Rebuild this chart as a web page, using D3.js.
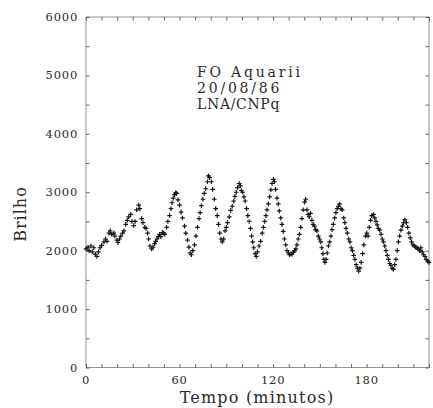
<!DOCTYPE html>
<html>
<head>
<meta charset="utf-8">
<script src="https://cdn.jsdelivr.net/npm/d3@7"></script>
<style>
  body { margin: 0; background: #ffffff; }
  svg text { fill: #2a2a2a; }
</style>
</head>
<body>
<div id="chart"></div>
<script>
var tempo = [
  0, 1.3, 2, 3.2, 4, 5, 6, 7, 8, 9, 10, 11.5, 12.5, 13.5, 14.7, 15.5, 16.5, 17.9, 18.5, 19.8,
  20.5, 21.5, 22.3, 23.5, 24.3, 25.5, 26.5, 27.4, 28.7, 29.5, 30.6, 31.5, 32.5, 33.8, 34.5, 35.7, 36.5, 37.7, 38.5, 39.5,
  40.2, 41, 42.1, 43, 44, 44.7, 45.5, 46.5, 47.2, 48, 49, 49.8, 50.5, 51.7, 52.5, 53.6, 54.5, 55.2, 56, 56.8,
  57.5, 58.1, 59, 60, 61, 61.9, 63.2, 64, 65.1, 66, 66.8, 67.6, 68.5, 69.6, 70.5, 71.5, 72.5, 73.2, 74, 75,
  75.9, 76.8, 77.9, 78.5, 79.2, 80.4, 81.2, 82.3, 83.2, 84.2, 85, 85.8, 86.6, 87.4, 88.3, 89.2, 90, 90.8, 91.9, 92.8,
  93.8, 94.7, 95.5, 96.4, 97.2, 98.3, 99, 99.6, 100.5, 101.3, 102.1, 103, 103.8, 104.7, 105.5, 106.2, 106.9, 107.6, 108.5, 109.2,
  110, 111, 112, 113, 113.8, 114.6, 115.4, 116.1, 117, 117.8, 118.6, 119.3, 120.2, 120.8, 121.6, 122.5, 123.3, 124, 124.9, 125.7,
  126.5, 127.3, 128.1, 128.9, 129.8, 130.6, 131.4, 132.1, 133, 133.8, 134.6, 135.3, 136.1, 136.9, 137.7, 138.5, 139.3, 140.2, 140.9, 141.7,
  142.4, 143.2, 144, 144.9, 145.7, 146.5, 147.3, 148.1, 149, 149.8, 150.6, 151.2, 152, 152.6, 153.2, 154, 154.7, 155.5, 156.3, 157.1,
  157.8, 158.6, 159.5, 160.3, 161.1, 161.9, 162.7, 163.5, 164.3, 165.3, 166, 166.8, 167.6, 168.5, 169.3, 170.1, 170.9, 171.7, 172.5, 173.3,
  174.1, 174.9, 175.7, 176.5, 177.4, 178.2, 179.3, 180.1, 180.9, 181.7, 182.5, 183.3, 184.4, 185.2, 186, 186.8, 187.6, 188.4, 189.2, 190,
  190.8, 191.6, 192.4, 193.2, 194, 194.8, 195.6, 196.4, 197.2, 198, 198.8, 199.6, 200.4, 201.2, 202, 202.9, 203.7, 204.5, 205.5, 206.3,
  207.1, 208, 208.8, 209.7, 210.6, 211.4, 212.2, 213.1, 214, 214.8, 215.7, 216.5, 217.4, 218.3, 219.2, 220
];
var brilho = [
  2030, 2060, 2000, 2080, 1980, 2050, 1940, 1900, 1980, 2050, 2090, 2150, 2200, 2160, 2300, 2340, 2280, 2300, 2250, 2180,
  2140, 2200, 2250, 2300, 2340, 2450, 2520, 2580, 2620, 2500, 2430, 2500, 2700, 2780, 2720, 2550, 2480, 2400, 2380, 2300,
  2200, 2080, 2030, 2060, 2120, 2160, 2200, 2240, 2280, 2240, 2310, 2300, 2280, 2400, 2500, 2600, 2720, 2820, 2900, 2960,
  2990, 2980, 2870, 2780, 2660, 2560, 2420, 2300, 2180, 2060, 1960, 1930, 2000, 2100, 2250, 2400, 2550, 2650, 2770, 2880,
  2980, 3060, 3180, 3280, 3250, 3180, 3050, 2880, 2720, 2600, 2450, 2300, 2200, 2150, 2200, 2340, 2400, 2480, 2580, 2690,
  2760, 2850, 2930, 3000, 3080, 3150, 3110, 3030, 3000, 2920, 2850, 2720, 2600, 2500, 2380, 2250, 2150, 2050, 1950, 1900,
  1980, 2080, 2160, 2300, 2400, 2500, 2600, 2700, 2800, 2920, 3040, 3150, 3220, 3180, 3050, 2900, 2800, 2680, 2560, 2450,
  2330, 2200, 2100, 2000, 1960, 1930, 1950, 1940, 1970, 2000, 2030, 2100, 2200, 2280, 2400, 2550, 2700, 2830, 2880, 2700,
  2620, 2580, 2640, 2520, 2450, 2420, 2360, 2340, 2250, 2200, 2150, 2050, 1950, 1850, 1800, 1850, 1960, 2080, 2150, 2250,
  2360, 2450, 2560, 2650, 2720, 2760, 2800, 2720, 2700, 2560, 2480, 2380, 2300, 2200, 2150, 2050, 2000, 1920, 1850, 1760,
  1700, 1650, 1700, 1800, 1950, 2100, 2250, 2300, 2250, 2400, 2520, 2600, 2620, 2560, 2500, 2440, 2380, 2350, 2280, 2200,
  2150, 2080, 2000, 1920, 1850, 1780, 1750, 1700, 1680, 1760, 1850, 2000, 2150, 2250, 2350, 2420, 2480, 2530, 2480, 2400,
  2300, 2220, 2150, 2100, 2080, 2060, 2050, 2030, 2000, 2050, 1980, 1930, 1900, 1850, 1820, 1800
];
var xTicks = [0, 60, 120, 180];
var yTicks = [0, 1000, 2000, 3000, 4000, 5000, 6000];
var rotulo = ["FO Aquarii", "20/08/86", "LNA/CNPq"];

var W = 433, H = 408,
    mLeft = 86, mRight = 429, mTop = 17, mBottom = 367.5;

var svg = d3.select("#chart").append("svg")
    .attr("width", W).attr("height", H);

var x = d3.scaleLinear().domain([0, 220]).range([mLeft, mRight]);
var y = d3.scaleLinear().domain([0, 6000]).range([mBottom, mTop]);

var minorX = d3.range(0, 221, 10),
    minorY = d3.range(0, 6001, 500);

// moldura com tracos para dentro
svg.append("rect")
    .attr("x", mLeft).attr("y", mTop)
    .attr("width", mRight - mLeft).attr("height", mBottom - mTop)
    .attr("fill", "none")
    .attr("stroke", "#888").attr("stroke-width", 0.9);

var ax = [
  d3.axisBottom(x).tickValues(minorX).tickSize(-3.5).tickFormat(""),
  d3.axisTop(x).tickValues(minorX).tickSize(-3.5).tickFormat(""),
  d3.axisLeft(y).tickValues(minorY).tickSize(-3.5).tickFormat(""),
  d3.axisRight(y).tickValues(minorY).tickSize(-3.5).tickFormat("")
];
var pos = ["translate(0," + mBottom + ")", "translate(0," + mTop + ")",
           "translate(" + mLeft + ",0)", "translate(" + mRight + ",0)"];
ax.forEach(function(a, i){
  var g = svg.append("g").attr("transform", pos[i]).call(a);
  g.select(".domain").remove();
  g.selectAll("line").attr("stroke", "#555").attr("stroke-width", 0.9);
});

// rotulos dos eixos
svg.append("g").selectAll("text")
   .data(xTicks).enter().append("text")
   .attr("x", function(d){ return x(d); })
   .attr("y", 384)
   .attr("text-anchor", "middle")
   .style("font-family", "DejaVu Serif")
   .style("font-size", "11.5px")
   .style("letter-spacing", "0.8px")
   .text(function(d){ return d; });

svg.append("g").selectAll("text")
   .data(yTicks).enter().append("text")
   .attr("x", 78)
   .attr("y", function(d){ return y(d) + 4; })
   .attr("text-anchor", "end")
   .style("font-family", "DejaVu Serif")
   .style("font-size", "11.5px")
   .style("letter-spacing", "0.8px")
   .text(function(d){ return d; });

svg.append("text")
   .attr("x", 257).attr("y", 403)
   .attr("text-anchor", "middle")
   .style("font-family", "DejaVu Serif")
   .style("font-size", "16px")
   .style("letter-spacing", "1.2px")
   .text("Tempo (minutos)");

svg.append("text")
   .attr("transform", "translate(26,214) rotate(-90)")
   .attr("text-anchor", "middle")
   .style("font-family", "DejaVu Serif")
   .style("font-size", "16px")
   .style("letter-spacing", "1px")
   .text("Brilho");

// anotacao
svg.append("g").selectAll("text")
   .data(rotulo).enter().append("text")
   .attr("x", 197)
   .attr("y", function(d, i){ return 77 + i * 16; })
   .attr("textLength", function(d){ return d.length * 10.3; })
   .attr("lengthAdjust", "spacing")
   .style("font-family", "DejaVu Serif")
   .style("font-size", "14px")
   .text(function(d){ return d; });

// pontos (+)
var pts = tempo.map(function(t, i){ return [t, brilho[i]]; });
svg.append("g").selectAll("path")
   .data(pts).enter().append("path")
   .attr("transform", function(d){ return "translate(" + x(d[0]) + "," + y(d[1]) + ")"; })
   .attr("d", "M-2.3,0H2.3M0,-2.3V2.3")
   .attr("stroke", "#151515")
   .attr("stroke-width", 1.2)
   .attr("fill", "none");
</script>
</body>
</html>
